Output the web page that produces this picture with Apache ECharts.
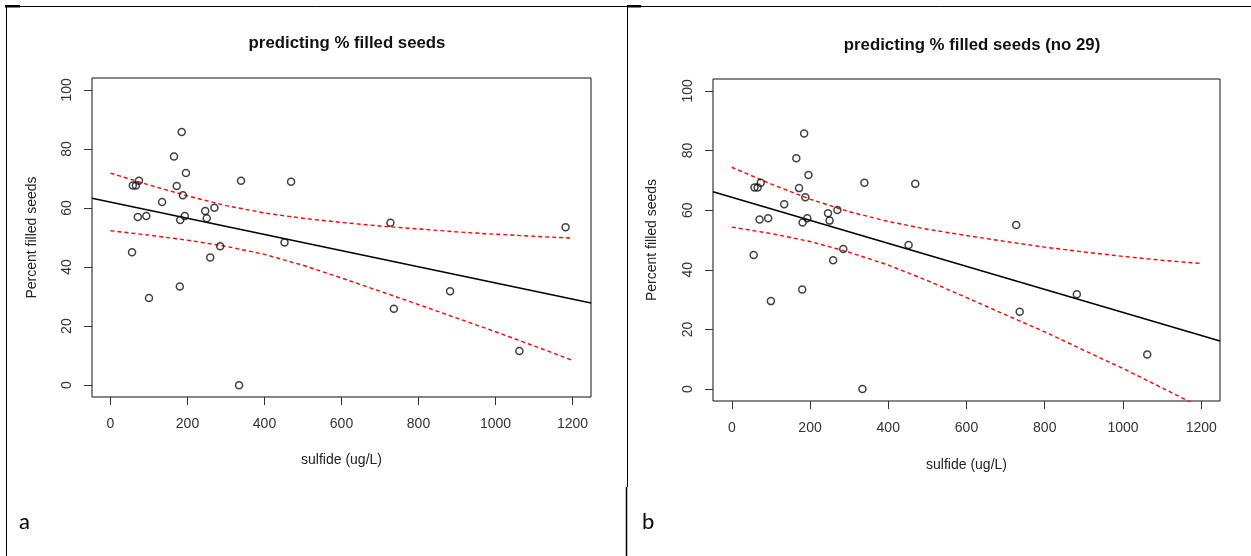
<!DOCTYPE html>
<html>
<head>
<meta charset="utf-8">
<script src="https://cdn.jsdelivr.net/npm/echarts@6/dist/echarts.min.js"></script>
<style>
html,body{margin:0;padding:0;background:#fff;}
#chart{width:1251px;height:556px;}
</style>
</head>
<body>
<div id="chart"></div>
<script>
// ---- data ----
const titles = ['predicting % filled seeds', 'predicting % filled seeds (no 29)'];
const panelLetters = ['a', 'b'];
const xName = 'sulfide (ug/L)';
const yName = 'Percent filled seeds';
const xTicks = [0, 200, 400, 600, 800, 1000, 1200];
const yTicks = [0, 20, 40, 60, 80, 100];

// observations (sulfide ug/L, percent filled seeds); observation 29 is dropped in panel b
const sulfide = [185, 165, 196, 74, 58, 66, 339, 469, 172, 188, 134, 270, 246, 71, 93,
                 193, 181, 250, 452, 285, 56, 259, 180, 100, 334, 727, 736, 882, 1182, 1062];
const filledSeeds = [85.7, 77.4, 71.8, 69.2, 67.6, 67.6, 69.2, 68.9, 67.4, 64.3, 62.0, 60.1, 59.0, 56.9, 57.3,
                     57.3, 55.9, 56.5, 48.3, 47.0, 45.0, 43.2, 33.4, 29.5, 0, 55.0, 25.9, 31.8, 53.5, 11.6];
const removedObs = 29;

// fitted line end points (plot edges)
const fitAX = [-48, 1248];
const fitAY = [63.3, 27.8];
const fitBX = [-48, 1248];
const fitBY = [66.2, 16.1];

// confidence band (red dashed), read every 100 ug/L
const bandX = [0, 100, 200, 300, 400, 500, 600, 700, 800, 900, 1000, 1100, 1200];
const upperA = [71.8, 67.8, 64.1, 60.8, 58.3, 56.5, 55.1, 53.9, 52.9, 51.9, 51.1, 50.4, 49.8];
const lowerA = [52.3, 50.8, 49.1, 47.0, 44.3, 40.6, 36.3, 31.8, 27.3, 22.7, 18.1, 13.3, 8.4];
const upperB = [74.4, 68.8, 63.7, 59.5, 56.2, 53.6, 51.5, 49.5, 47.6, 46.0, 44.5, 43.2, 42.1];
const lowerB = [54.3, 52.2, 49.5, 45.9, 41.6, 36.4, 30.7, 24.9, 19.2, 13.0, 6.9, 0.4, -6.2];

// ---- build chart ----
const pairs = (xs, ys) => xs.map((x, i) => [x, ys[i]]);
const ptsA = pairs(sulfide, filledSeeds);
const ptsB = ptsA.filter((_, i) => i !== removedObs - 1);

const FONT = 'Liberation Sans, Arial, sans-serif';
const grids = [
  {left: 92, top: 78, width: 499, height: 319},
  {left: 713, top: 79, width: 507, height: 322}
];

function xAxisFor(i) {
  return {
    gridIndex: i, type: 'value', min: -48, max: 1248,
    name: xName, nameLocation: 'middle', nameGap: i === 0 ? 56 : 57,
    nameTextStyle: {fontFamily: FONT, fontSize: 14, color: '#222'},
    axisLine: {show: false, onZero: false},
    axisTick: {show: true, inside: false, length: 8, customValues: xTicks, lineStyle: {color: '#333', width: 1}},
    axisLabel: {customValues: xTicks, margin: 20, fontFamily: FONT, fontSize: 14, color: '#333',
                formatter: v => String(v)},
    splitLine: {show: false}
  };
}
function yAxisFor(i) {
  return {
    gridIndex: i, type: 'value', min: -4, max: 104,
    name: yName, nameLocation: 'middle', nameGap: i === 0 ? 53 : 54,
    nameTextStyle: {fontFamily: FONT, fontSize: 14, color: '#222'},
    axisLine: {show: false, onZero: false},
    axisTick: {show: true, inside: false, length: 8, customValues: yTicks, lineStyle: {color: '#333', width: 1}},
    axisLabel: {customValues: yTicks, rotate: 90, margin: 18, fontFamily: FONT, fontSize: 14, color: '#333',
                formatter: v => String(v)},
    splitLine: {show: false}
  };
}
function scatter(i, data) {
  return {type: 'scatter', xAxisIndex: i, yAxisIndex: i, data: data, symbol: 'circle', symbolSize: 7,
    itemStyle: {color: 'rgba(0,0,0,0)', borderColor: '#111', borderWidth: 1.5}, z: 3, silent: true};
}
function line(i, data, color, dashed) {
  return {type: 'line', xAxisIndex: i, yAxisIndex: i, data: data, showSymbol: false, symbol: 'none',
    smooth: false, clip: true, silent: true, z: 2,
    lineStyle: {color: color, width: dashed ? 1.4 : 1.6, type: dashed ? [4, 3] : 'solid'}};
}

const chart = echarts.init(document.getElementById('chart'), null, {renderer: 'canvas'});
chart.setOption({
  animation: false,
  backgroundColor: '#fff',
  title: [
    {text: titles[0], left: 342, top: 30, textAlign: 'center',
     textStyle: {fontFamily: FONT, fontSize: 16.8, fontWeight: 'bold', color: '#111'}},
    {text: titles[1], left: 967, top: 32, textAlign: 'center',
     textStyle: {fontFamily: FONT, fontSize: 16.8, fontWeight: 'bold', color: '#111'}}
  ],
  grid: grids.map(g => Object.assign({show: true, borderColor: '#111', borderWidth: 1, backgroundColor: 'transparent'}, g)),
  xAxis: [xAxisFor(0), xAxisFor(1)],
  yAxis: [yAxisFor(0), yAxisFor(1)],
  series: [
    scatter(0, ptsA),
    line(0, pairs(fitAX, fitAY), '#000', false),
    line(0, pairs(bandX, upperA), '#ff0000', true),
    line(0, pairs(bandX, lowerA), '#ff0000', true),
    scatter(1, ptsB),
    line(1, pairs(fitBX, fitBY), '#000', false),
    line(1, pairs(bandX, upperB), '#ff0000', true),
    line(1, pairs(bandX, lowerB), '#ff0000', true)
  ],
  graphic: [
    {type: 'line', shape: {x1: 5, y1: 6.5, x2: 1251, y2: 6.5}, style: {stroke: '#000', lineWidth: 1}},
    {type: 'line', shape: {x1: 6.5, y1: 6, x2: 6.5, y2: 556}, style: {stroke: '#000', lineWidth: 1}},
    {type: 'line', shape: {x1: 627.5, y1: 6, x2: 627.5, y2: 487}, style: {stroke: '#000', lineWidth: 1}},
    {type: 'line', shape: {x1: 626.5, y1: 487, x2: 626.5, y2: 556}, style: {stroke: '#000', lineWidth: 1.5}},
    {type: 'rect', shape: {x: 5, y: 5, width: 15, height: 2.5}, style: {fill: '#000'}},
    {type: 'rect', shape: {x: 627, y: 5, width: 14, height: 2.5}, style: {fill: '#000'}},
    {type: 'text', x: 19, y: 511, style: {text: panelLetters[0], font: '22px Lato, Carlito, sans-serif', fill: '#000'}},
    {type: 'text', x: 642, y: 511, style: {text: panelLetters[1], font: '22px Lato, Carlito, sans-serif', fill: '#000'}}
  ]
});
</script>
</body>
</html>
